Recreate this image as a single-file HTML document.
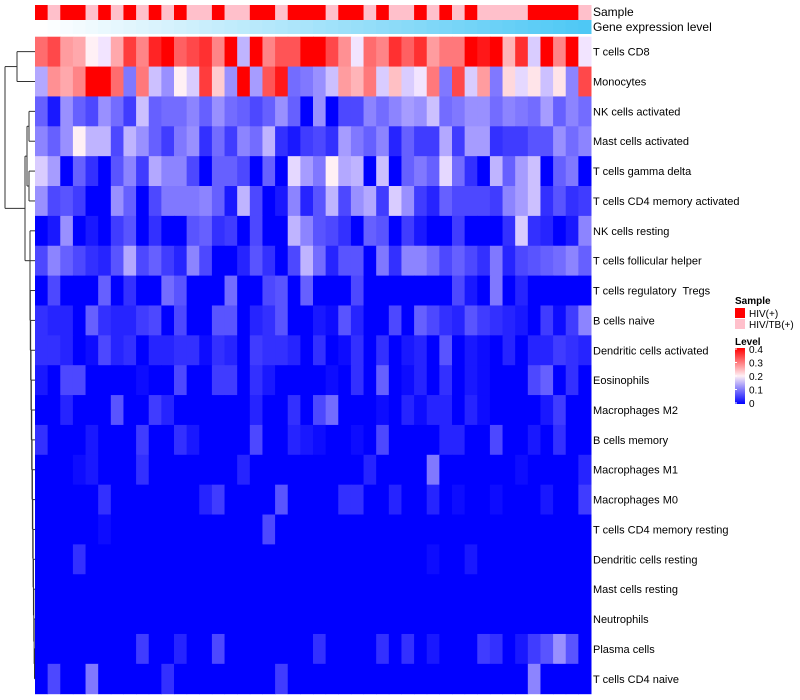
<!DOCTYPE html>
<html><head><meta charset="utf-8">
<style>
html,body{margin:0;padding:0;background:#fff;}
svg{display:block;font-family:"Liberation Sans",sans-serif;}
#rowLabels text{white-space:pre;}
</style></head>
<body>
<svg id="chart" width="800" height="700" viewBox="0 0 800 700">
  <g id="dendro" stroke="#333" stroke-width="1" fill="none"></g>
  <g id="sampleBar"></g>
  <g id="geneBar"></g>
  <g id="cells"></g>
  <g id="rowLabels" font-size="11" fill="#000"></g>
  <text x="593" y="16" font-size="12">Sample</text>
  <text x="593" y="31" font-size="12">Gene expression level</text>
  <g>
    <text x="735" y="304" font-size="10" font-weight="bold">Sample</text>
    <rect x="735" y="308" width="10" height="10" fill="#ff0000"/>
    <text x="749" y="317" font-size="10">HIV(+)</text>
    <rect x="735" y="319" width="10" height="10" fill="#ffc0cb"/>
    <text x="749" y="328" font-size="10">HIV/TB(+)</text>
    <text x="735" y="345" font-size="10" font-weight="bold">Level</text>
    <defs><linearGradient id="lg" x1="0" y1="1" x2="0" y2="0">
      <stop offset="0" stop-color="#0000ff"/><stop offset="0.5" stop-color="#fff0f5"/><stop offset="1" stop-color="#ff0000"/>
    </linearGradient></defs>
    <rect x="735" y="348" width="10" height="56" fill="url(#lg)"/>
    <g id="legTicks"></g>
  </g>
</svg>
<script>
const rowNames=["T cells CD8","Monocytes","NK cells activated","Mast cells activated","T cells gamma delta","T cells CD4 memory activated","NK cells resting","T cells follicular helper","T cells regulatory  Tregs","B cells naive","Dendritic cells activated","Eosinophils","Macrophages M2","B cells memory","Macrophages M1","Macrophages M0","T cells CD4 memory resting","Dendritic cells resting","Mast cells resting","Neutrophils","Plasma cells","T cells CD4 naive"];
const sampleGroups="RPRRPRPRPRPRPPRPPRRPRRRPRRPRPPRPRPRPPPPRRRRP".split("");
const legendTicks=[0,0.1,0.2,0.3,0.4];
const r0=[0.31,0.34,0.27,0.26,0.2,0.19,0.26,0.35,0.29,0.37,0.42,0.32,0.34,0.36,0.29,0.42,0.15,0.42,0.29,0.33,0.33,0.42,0.42,0.34,0.28,0.19,0.31,0.29,0.36,0.32,0.36,0.27,0.3,0.3,0.4,0.38,0.42,0.25,0.36,0.17,0.42,0.29,0.42,0.19];
const r1=[0.14,0.28,0.26,0.29,0.42,0.42,0.31,0.1,0.3,0.16,0.12,0.2,0.17,0.35,0.23,0.12,0.42,0.13,0.33,0.38,0.09,0.1,0.12,0.16,0.27,0.25,0.3,0.17,0.24,0.17,0.19,0.3,0.1,0.34,0.17,0.27,0.1,0.22,0.18,0.21,0.16,0.21,0.11,0.34];
const r2=[0.08,0.02,0.12,0.08,0.06,0.12,0.09,0.05,0.16,0.08,0.09,0.09,0.11,0.08,0.12,0.09,0.08,0.06,0.08,0.12,0.08,0,0.12,0,0.06,0.06,0.11,0.09,0.11,0.13,0.12,0.16,0.09,0.1,0.12,0.12,0.09,0.11,0.1,0.09,0.13,0.08,0.11,0.09];
const r3=[0.11,0.08,0.12,0.2,0.15,0.15,0.06,0.15,0.12,0.08,0.05,0.1,0.12,0.04,0.09,0.05,0.11,0.09,0.15,0.04,0.02,0.05,0.06,0.04,0.13,0.1,0.08,0.11,0.03,0.08,0.05,0.05,0.14,0.05,0.13,0.13,0.04,0.05,0.05,0.07,0.07,0.12,0.09,0.11];
const r4=[0.17,0.13,0,0.08,0.04,0,0.07,0.11,0.05,0.14,0.11,0.11,0.06,0,0.08,0.08,0.06,0,0.08,0,0.18,0.13,0.1,0.2,0.14,0.15,0,0.16,0,0.08,0.1,0.08,0.18,0.09,0.04,0,0.15,0.08,0.13,0.16,0,0.08,0.1,0];
const r5=[0.12,0.06,0.07,0.05,0,0,0.12,0.08,0,0.06,0.1,0.1,0.1,0.11,0.08,0.02,0.15,0.06,0,0.02,0.11,0.03,0.07,0.15,0.06,0.12,0.14,0.05,0.17,0.12,0.05,0.03,0.08,0.06,0.06,0.06,0.05,0.11,0.13,0.16,0.04,0.07,0.04,0.05];
const r6=[0,0.02,0.12,0,0.02,0,0.05,0.07,0,0.04,0,0,0.07,0.08,0.04,0.05,0,0.06,0,0,0.15,0.11,0.07,0.06,0.04,0,0.08,0.07,0,0.05,0.02,0,0,0.05,0,0,0,0.04,0.17,0.04,0.03,0,0.02,0.11];
const r7=[0.06,0.11,0.08,0.06,0.04,0.03,0.07,0.14,0.06,0.08,0.05,0.03,0.11,0.06,0,0,0.03,0.07,0.04,0,0.06,0.15,0.09,0.03,0.07,0.07,0,0.1,0.04,0.11,0.11,0.09,0.06,0.08,0.06,0.04,0.1,0.03,0.06,0.07,0.08,0.09,0.11,0.08];
const r8=[0,0.06,0,0,0,0.08,0,0.04,0,0,0.09,0.07,0,0,0,0.09,0,0,0.06,0.07,0,0.08,0,0,0,0.06,0,0,0,0,0,0,0,0.06,0.02,0,0.1,0,0.03,0,0,0,0,0];
const r9=[0.04,0.03,0.03,0,0.08,0.04,0.03,0.03,0.05,0.06,0,0.06,0,0,0.07,0.07,0,0.03,0.04,0.07,0,0,0.02,0.01,0.07,0.03,0,0,0.06,0,0.08,0.06,0.04,0.03,0.07,0.05,0.04,0.03,0.02,0,0.05,0.01,0.05,0.11];
const r10=[0.04,0.04,0.03,0,0.01,0.06,0.03,0.04,0,0.03,0.03,0.04,0.04,0.01,0.04,0.03,0,0.05,0.04,0.04,0.03,0,0.04,0,0.01,0.04,0,0.04,0,0.02,0.03,0,0.07,0,0.02,0.01,0,0.03,0,0.03,0.03,0.05,0.04,0.03];
const r11=[0.02,0,0.06,0.06,0,0,0,0,0.01,0,0,0.06,0,0,0.05,0.05,0,0.04,0.02,0,0,0,0,0.01,0,0.04,0,0.08,0,0.01,0.03,0,0.04,0,0.02,0.01,0,0,0,0.06,0.08,0,0.04,0];
const r12=[0,0,0.03,0,0,0,0.07,0,0,0.05,0.03,0,0,0,0,0,0,0.03,0,0,0.04,0,0.06,0.09,0,0,0,0.01,0,0.03,0.01,0.03,0.03,0,0.03,0.01,0,0,0,0,0.02,0.05,0,0];
const r13=[0.04,0,0,0,0.02,0,0,0,0.05,0,0,0.04,0.02,0,0,0,0,0.06,0,0,0.03,0.02,0.01,0,0,0.01,0,0.06,0,0,0,0,0.03,0.03,0,0,0.06,0,0,0.02,0,0.04,0,0];
const r14=[0,0,0,0.01,0.02,0,0,0,0.04,0,0,0,0,0,0,0,0.03,0,0,0,0,0,0,0,0,0,0.03,0,0,0,0,0.1,0,0,0,0,0,0,0.01,0,0,0,0,0.03];
const r15=[0,0,0,0,0,0.04,0,0,0,0,0,0,0,0.03,0.05,0,0,0,0,0.07,0,0,0,0,0.04,0.04,0,0,0.03,0,0,0.03,0,0.01,0,0,0.01,0,0,0,0.02,0,0,0.05];
const r16=[0,0,0,0,0,0.01,0,0,0,0,0,0,0,0,0,0,0,0,0.06,0,0,0,0,0,0,0,0,0,0,0,0,0,0,0,0,0,0,0,0,0,0,0,0,0];
const r17=[0,0,0,0.04,0,0,0,0,0,0,0,0,0,0,0,0,0,0,0,0,0,0,0,0,0,0,0,0,0,0,0,0.01,0,0,0.02,0,0,0,0,0,0,0,0,0];
const r18=[0,0,0,0,0,0,0,0,0,0,0,0,0,0,0,0,0,0,0,0,0,0,0,0,0,0,0,0,0,0,0,0,0,0,0,0,0,0,0,0,0,0,0,0];
const r19=[0,0,0,0,0,0,0,0,0,0,0,0,0,0,0,0,0,0,0,0,0,0,0,0,0,0,0,0,0,0,0,0,0,0,0,0,0,0,0,0,0,0,0,0];
const r20=[0,0,0,0,0,0,0,0,0.05,0,0,0.03,0,0,0.06,0,0,0,0,0,0,0,0.04,0,0,0,0,0.04,0,0.04,0,0.02,0,0,0,0.05,0.04,0,0.02,0.05,0.07,0.12,0.07,0];
const r21=[0,0.06,0,0,0.1,0,0,0,0,0,0.04,0,0,0,0,0,0,0,0,0.05,0,0,0,0,0,0,0,0,0,0,0,0,0,0,0,0,0,0,0,0.11,0,0,0,0];
const matrix=[r0,r1,r2,r3,r4,r5,r6,r7,r8,r9,r10,r11,r12,r13,r14,r15,r16,r17,r18,r19,r20,r21];

const NS="http://www.w3.org/2000/svg";
const X0=35,X1=591,Y0=36.7,Y1=693.7;
const nCol=sampleGroups.length,nRow=rowNames.length;
const cw=(X1-X0)/nCol,rh=(Y1-Y0)/nRow;
const xPos=c=>X0+c*cw;
const yPos=r=>Y0+r*rh;
const yMid=r=>Y0+(r+0.5)*rh;
function colorOf(v){
  let t=Math.max(0,Math.min(1,v/0.4));
  let r,g,b;
  if(t<0.5){const s=t*2;r=255*s;g=240*s;b=255;}
  else{const s=(t-0.5)*2;r=255;g=240*(1-s);b=245*(1-s);}
  return `rgb(${Math.round(r)},${Math.round(g)},${Math.round(b)})`;
}
function mk(tag,attrs,parent){const e=document.createElementNS(NS,tag);for(const k in attrs)e.setAttribute(k,attrs[k]);parent.appendChild(e);return e;}

const cells=document.getElementById('cells');
matrix.forEach((row,r)=>{row.forEach((v,c)=>{
  const el=mk('rect',{x:xPos(c),y:yPos(r),width:cw+0.5,height:rh+0.5,fill:colorOf(v)},cells);
  
  
});});

const sb=document.getElementById('sampleBar'),gb=document.getElementById('geneBar');
sampleGroups.forEach((g,c)=>{
  const el=mk('rect',{x:xPos(c),y:5,width:cw+0.5,height:15,fill:g==='R'?'#ff0000':'#ffc0cb'},sb);
  
  
  const t=c/(nCol-1);
  const col=`rgb(${Math.round(255-(255-78)*t)},${Math.round(255-(255-200)*t)},${Math.round(255-(255-245)*t)})`;
  const el2=mk('rect',{x:xPos(c),y:20,width:cw+0.5,height:14,fill:col},gb);
  
  
});

const rl=document.getElementById('rowLabels');
rowNames.forEach((n,r)=>{
  const el=mk('text',{x:593,y:yMid(r)+4},rl);el.textContent=n;
  
  
});

const lt=document.getElementById('legTicks');
legendTicks.forEach(v=>{
  const y=403-(v/0.4)*54;
  const tk=mk('line',{x1:735,x2:737,y1:y,y2:y,stroke:'#fff'},lt);
  
  
  const el=mk('text',{x:749,y:y+4,'font-size':10},lt);el.textContent=String(v);
  
  
});

const dg=document.getElementById('dendro');
function seg(x1,y1,x2,y2){const l=mk('line',{x1,y1,x2,y2},dg);}
function node(xa,ya,xb,yb,x){seg(xa,ya,x,ya);seg(xb,yb,x,yb);seg(x,ya,x,yb);return (ya+yb)/2;}
const L=35;
const a=node(L,yMid(0),L,yMid(1),17);
const b1=node(L,yMid(2),L,yMid(3),29);
const b2=node(L,yMid(4),L,yMid(5),29);
const b=node(29,b1,29,b2,27);
let cy=node(L,yMid(20),L,yMid(21),34.5),cx=34.5;
for(let r=19;r>=6;r--){const nx=Math.max(30,cx-0.35);cy=node(L,yMid(r),cx,cy,nx);cx=nx;}
const bb=node(27,b,cx,cy,25);
node(17,a,25,bb,5);
</script>
</body></html>
